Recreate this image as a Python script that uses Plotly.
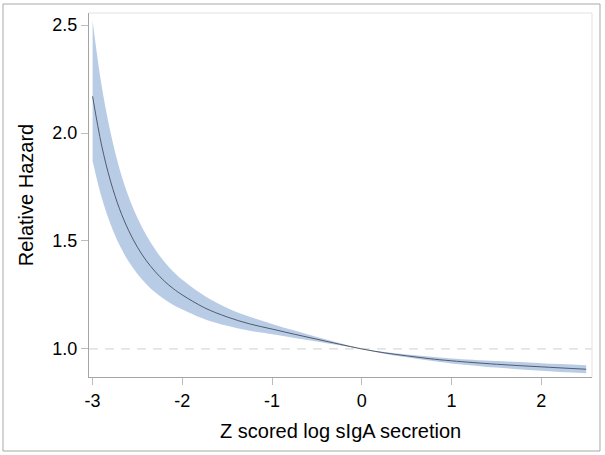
import plotly.graph_objects as go

# values
z_score = [-3.0, -2.9, -2.8, -2.7, -2.6, -2.5, -2.4, -2.3, -2.2, -2.1, -2.0,
           -1.75, -1.5, -1.25, -1.0, -0.75, -0.5, -0.25, 0.0,
           0.25, 0.5, 0.75, 1.0, 1.5, 2.0, 2.5]
hazard = [2.170, 1.944, 1.777, 1.649, 1.550, 1.471, 1.408, 1.357, 1.314, 1.279, 1.250,
          1.190, 1.148, 1.116, 1.092, 1.068, 1.045, 1.022, 1.0,
          0.982, 0.968, 0.955, 0.945, 0.929, 0.917, 0.906]
hazard_lo = [1.870, 1.702, 1.578, 1.481, 1.406, 1.347, 1.300, 1.261, 1.230, 1.204, 1.183,
             1.138, 1.107, 1.084, 1.068, 1.051, 1.035, 1.017, 1.0,
             0.978, 0.961, 0.946, 0.933, 0.914, 0.899, 0.887]
hazard_hi = [2.519, 2.221, 2.002, 1.835, 1.707, 1.606, 1.525, 1.459, 1.404, 1.358, 1.320,
             1.245, 1.190, 1.149, 1.116, 1.085, 1.055, 1.027, 1.0,
             0.986, 0.974, 0.965, 0.956, 0.944, 0.934, 0.925]
y_ticks = [1.0, 1.5, 2.0, 2.5]
x_ticks = [-3, -2, -1, 0, 1, 2]
x_labels = ["-3", "-2", "-1", "0", "1", "2"]

FONT = "Arial, Liberation Sans, sans-serif"
BAND = "#b9cce5"
AXIS = "#a4a4a4"
SMOOTH = dict(shape="spline", smoothing=1.0)

fig = go.Figure()

# confidence band
fig.add_trace(go.Scatter(x=z_score, y=hazard_hi, mode="lines",
                         line=dict(width=0, **SMOOTH),
                         hoverinfo="skip", showlegend=False))
fig.add_trace(go.Scatter(x=z_score, y=hazard_lo, mode="lines", fill="tonexty",
                         fillcolor=BAND, line=dict(width=0, **SMOOTH),
                         hoverinfo="skip", showlegend=False))
# estimate
fig.add_trace(go.Scatter(x=z_score, y=hazard, mode="lines",
                         line=dict(color="#525a6c", width=1, **SMOOTH),
                         showlegend=False))

# reference line at 1.0
fig.add_shape(type="line", xref="paper", yref="y", x0=0, x1=1, y0=1.0, y1=1.0,
              line=dict(color="#cfcfcf", width=1, dash="9px,7px"), layer="below")
# light top / right frame
fig.add_shape(type="line", xref="paper", yref="paper", x0=0, x1=1, y0=1, y1=1,
              line=dict(color="#e2e2e2", width=1))
fig.add_shape(type="line", xref="paper", yref="paper", x0=1, x1=1, y0=0, y1=1,
              line=dict(color="#e2e2e2", width=1))
# outer border of the graphic
fig.add_shape(type="rect", xref="paper", yref="paper",
              x0=-0.171, x1=1.0159, y0=-0.2033, y1=1.0247,
              line=dict(color="#a8a8a8", width=1))

fig.update_xaxes(range=[-3.04, 2.565], tickvals=x_ticks, ticktext=x_labels,
                 showgrid=False, zeroline=False,
                 showline=True, linecolor=AXIS, linewidth=1,
                 ticks="outside", ticklen=7, tickcolor="#bdbdbd",
                 tickfont=dict(family=FONT, size=18, color="#000000"))
fig.update_yaxes(range=[0.87, 2.556], tickvals=y_ticks, tickformat=".1f",
                 showgrid=False, zeroline=False,
                 showline=True, linecolor=AXIS, linewidth=1,
                 ticks="outside", ticklen=7, tickcolor="#bdbdbd",
                 tickfont=dict(family=FONT, size=18, color="#000000"))

fig.add_annotation(text="Z scored log sIgA secretion", xref="paper", yref="paper",
                   x=0.5, y=-0.148, xanchor="center", yanchor="middle", showarrow=False,
                   font=dict(family=FONT, size=20, color="#000000"))
fig.add_annotation(text="Relative Hazard", xref="paper", yref="paper",
                   x=-0.125, y=0.5, xanchor="center", yanchor="middle", textangle=-90,
                   showarrow=False, font=dict(family=FONT, size=20, color="#000000"))

fig.update_layout(width=605, height=455,
                  margin=dict(l=89, r=13, t=13, b=78, autoexpand=False),
                  plot_bgcolor="white", paper_bgcolor="white")

fig.write_html("out.html", config={"displayModeBar": False},
               post_script="document.body.style.margin='0';")
